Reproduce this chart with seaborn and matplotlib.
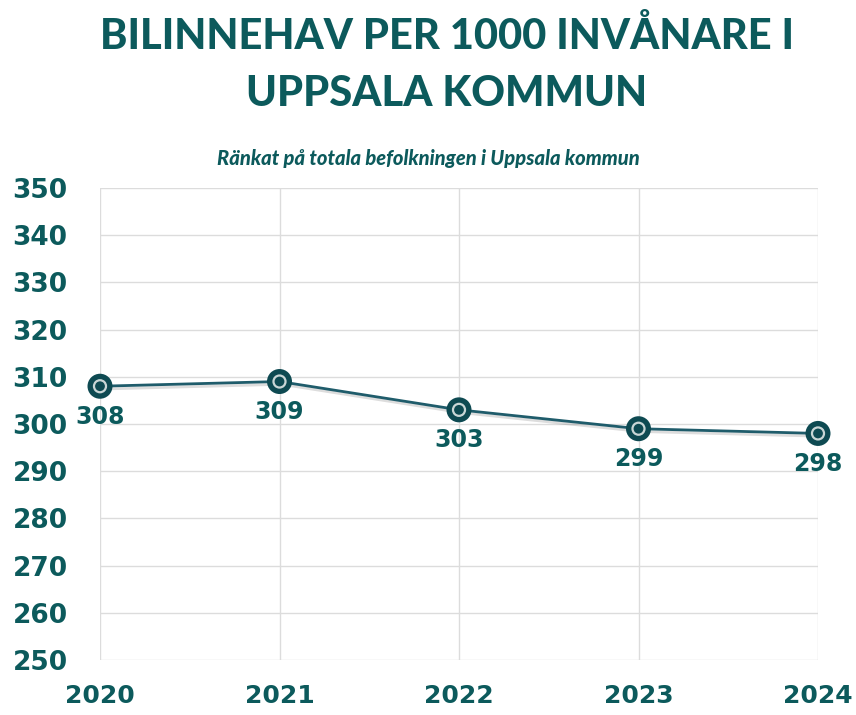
import pandas as pd
import matplotlib.pyplot as plt
import matplotlib.patheffects as pe
import seaborn as sns

# ===== data =====
years = [2020, 2021, 2022, 2023, 2024]
bilar_per_1000 = [308, 309, 303, 299, 298]
y_ticks = [250, 260, 270, 280, 290, 300, 310, 320, 330, 340, 350]

title_rad1 = "BILINNEHAV PER 1000 INVÅNARE I"
title_rad2 = "UPPSALA KOMMUN"
undertitel = "Ränkat på totala befolkningen i Uppsala kommun"

TEAL = "#0c5a5c"
LINE = "#1f5c6b"
MARK = "#0e4a52"
GRID = "#dcdcdc"

df = pd.DataFrame({"år": years, "bilar": bilar_per_1000})

sns.set_theme(style="white")
plt.rcParams["font.family"] = ["DejaVu Sans"]

fig = plt.figure(figsize=(8.56, 7.15), dpi=100)
ax = fig.add_axes([100 / 856, 1 - 660 / 715, 718 / 856, 472 / 715])

# linje med lätt skugga
shadow = [pe.SimpleLineShadow(offset=(1.5, -2), alpha=0.2, shadow_color="#555555"), pe.Normal()]
sns.lineplot(data=df, x="år", y="bilar", ax=ax, color=LINE, linewidth=2,
             marker="o", markersize=18, markerfacecolor=MARK,
             markeredgecolor=MARK, markeredgewidth=0, path_effects=shadow,
             clip_on=False, zorder=4)
# inre ring i markören
sns.scatterplot(data=df, x="år", y="bilar", ax=ax, s=75, facecolor="none",
                edgecolor="#c9d6d6", linewidth=1.6, zorder=5, clip_on=False)

# datavärden under punkterna
for x, y in zip(years, bilar_per_1000):
    ax.annotate(str(y), (x, y), xytext=(0, -22), textcoords="offset points",
                ha="center", va="center", fontsize=17, fontweight="bold",
                color=TEAL)

ax.set_xlim(years[0], years[-1])
ax.set_ylim(y_ticks[0], y_ticks[-1])
ax.set_xticks(years)
ax.set_yticks(y_ticks)
ax.grid(True, color=GRID, linewidth=1)
for s in ax.spines.values():
    s.set_visible(False)
ax.set_xlabel("")
ax.set_ylabel("")
ax.tick_params(axis="both", length=0, labelcolor=TEAL)
ax.tick_params(axis="y", pad=63, labelsize=19)
ax.tick_params(axis="x", pad=17, labelsize=18)
for lab in ax.get_yticklabels():
    lab.set_horizontalalignment("left")
    lab.set_fontweight("bold")
for lab in ax.get_xticklabels():
    lab.set_fontweight("bold")

# rubriker
fig.text(447 / 856, 1 - 36 / 715, title_rad1, ha="center", va="center",
         fontsize=30, fontweight="black", color=TEAL, family=["Lato", "DejaVu Sans"])
fig.text(447 / 856, 1 - 94 / 715, title_rad2, ha="center", va="center",
         fontsize=30, fontweight="black", color=TEAL, family=["Lato", "DejaVu Sans"])
fig.text(428 / 856, 1 - 158 / 715, undertitel, ha="center", va="center",
         fontsize=14.5, fontweight="black", style="italic", color=TEAL,
         family=["Lato", "DejaVu Sans"])

fig.savefig("out.png", dpi=100)
